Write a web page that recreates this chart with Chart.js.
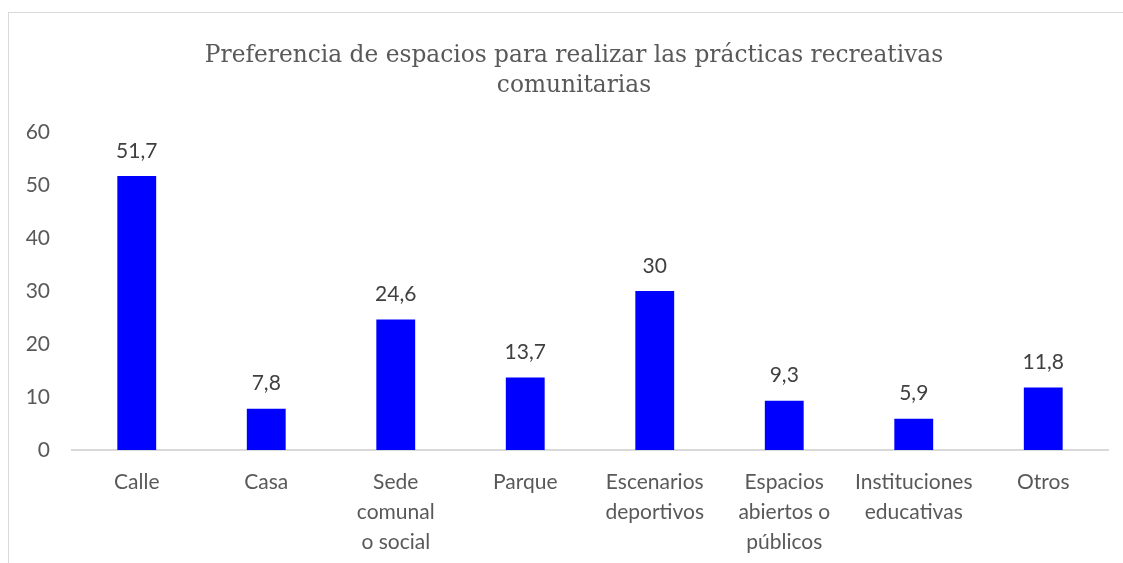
<!DOCTYPE html>
<html>
<head>
<meta charset="utf-8">
<script src="https://cdn.jsdelivr.net/npm/chart.js@4"></script>
<style>
    html, body { margin: 0; padding: 0; background: #fff; }
    #frame {
        position: absolute; left: 8px; top: 12px; width: 1115px; height: 551px;
        border-left: 1px solid #d9d9d9; border-top: 1px solid #d9d9d9;
    }
    #chart { display: block; }
</style>
</head>
<body>
<div id="frame"><canvas id="chart" width="1114" height="550"></canvas></div>
<script>
// Data
const categories = [
    'Calle', 'Casa', ['Sede', 'comunal', 'o social'], 'Parque',
    ['Escenarios', 'deportivos'], ['Espacios', 'abiertos o', 'públicos'],
    ['Instituciones', 'educativas'], 'Otros'
];
const values = [51.7, 7.8, 24.6, 13.7, 30, 9.3, 5.9, 11.8];
const yTicks = [0, 10, 20, 30, 40, 50, 60];
const titleLines = ['Preferencia de espacios para realizar las prácticas recreativas', 'comunitarias'];

const textColor = '#595959';
const labelFont = 'Lato, "Open Sans", sans-serif';

// Title drawn by hand so it can sit slightly right of centre, like the original
const chartTitle = {
    id: 'chartTitle',
    afterDraw(chart) {
        const ctx = chart.ctx;
        ctx.save();
        ctx.font = '23.3px "DejaVu Serif", serif';
        ctx.fillStyle = textColor;
        ctx.textAlign = 'center';
        ctx.textBaseline = 'middle';
        titleLines.forEach((line, i) => ctx.fillText(line, 565, 43 + i * 30));
        ctx.restore();
    }
};

// Value above each bar (comma decimal)
const valueLabels = {
    id: 'valueLabels',
    afterDatasetsDraw(chart) {
        const ctx = chart.ctx;
        const meta = chart.getDatasetMeta(0);
        ctx.save();
        ctx.font = '21px ' + labelFont;
        ctx.fillStyle = '#404040';
        ctx.textAlign = 'center';
        ctx.textBaseline = 'middle';
        meta.data.forEach((bar, i) => {
            ctx.fillText(String(values[i]).replace('.', ','), bar.x, bar.y - 25);
        });
        ctx.restore();
    }
};

new Chart(document.getElementById('chart').getContext('2d'), {
    type: 'bar',
    data: {
        labels: categories,
        datasets: [{
            data: values,
            backgroundColor: '#0000ff',
            borderWidth: 0,
            categoryPercentage: 1,
            barPercentage: 0.3
        }]
    },
    options: {
        responsive: false,
        animation: false,
        layout: { padding: { left: 0, right: 15, top: 119, bottom: 0 } },
        plugins: {
            legend: { display: false },
            tooltip: { enabled: false },
            title: { display: false }
        },
        scales: {
            x: {
                grid: { display: false, drawTicks: false },
                border: { display: true, color: '#d9d9d9', width: 2 },
                ticks: {
                    color: textColor,
                    font: { family: labelFont, size: 21, lineHeight: 1.43 },
                    padding: 17,
                    maxRotation: 0,
                    autoSkip: false
                },
                afterFit(scale) { scale.height = 113; }
            },
            y: {
                min: 0,
                max: 60,
                afterBuildTicks(scale) { scale.ticks = yTicks.map(v => ({ value: v })); },
                grid: { display: false, drawTicks: false },
                border: { display: false },
                ticks: {
                    color: textColor,
                    font: { family: labelFont, size: 21 },
                    padding: 22
                },
                afterFit(scale) { scale.width = 63; }
            }
        }
    },
    plugins: [valueLabels, chartTitle]
});
</script>
</body>
</html>
